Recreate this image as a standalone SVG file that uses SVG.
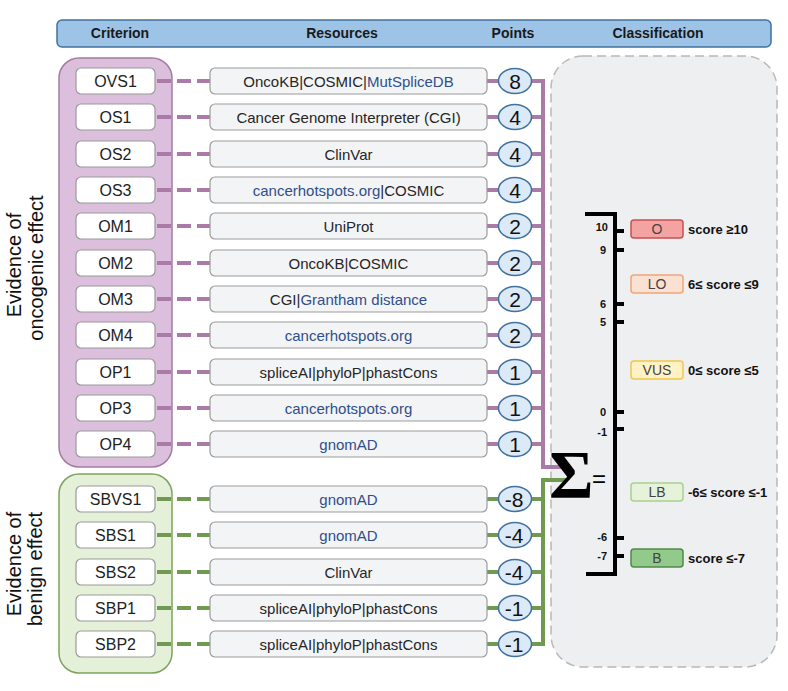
<svg xmlns="http://www.w3.org/2000/svg" width="788" height="691" viewBox="0 0 788 691">
<style>
.hdr{font-family:"Liberation Sans",Arial,sans-serif;font-weight:bold;font-size:14px;fill:#1a1a1a;text-anchor:middle}
.crit rect{fill:#fff;stroke:#9a9a9a;stroke-width:1.2}
.crit text{font-family:"Liberation Sans",Arial,sans-serif;font-size:16px;fill:#222;text-anchor:middle}
.res rect{fill:#f3f4f6;stroke:#9c9c9c;stroke-width:1.2}
.res text{font-family:"Liberation Sans",Arial,sans-serif;font-size:15px;fill:#262626;text-anchor:middle}
.res .bl{fill:#2f4f8c}
.pt ellipse{fill:#dce9f6;stroke:#41729f;stroke-width:1.5}
.pt text{font-family:"Liberation Sans",Arial,sans-serif;font-size:21px;fill:#111;text-anchor:middle}
.side{font-family:"Liberation Sans",Arial,sans-serif;font-size:20px;fill:#111;text-anchor:middle}
.tick{font-family:"Liberation Sans",Arial,sans-serif;font-weight:bold;font-size:11px;fill:#111;text-anchor:end}
.cls rect{stroke-width:1.5}
.cls .lb{font-family:"Liberation Sans",Arial,sans-serif;font-size:14px;fill:#444;text-anchor:middle}
.cls .sc{font-family:"Liberation Sans",Arial,sans-serif;font-weight:bold;font-size:13px;fill:#111;text-anchor:start}
.dp{stroke:#a97ba6;stroke-width:4;stroke-dasharray:14 6;fill:none}
.dg{stroke:#6f9a4f;stroke-width:4;stroke-dasharray:14 6;fill:none}
.sp{stroke:#a97ba6;stroke-width:4;fill:none}
.sg{stroke:#6f9a4f;stroke-width:4;fill:none}
.k{stroke:#000;stroke-width:4;fill:none}
</style>

<g id="header">
<rect x="57" y="20" width="714" height="27" rx="5" fill="#9dc3e6" stroke="#41719c" stroke-width="1.5"/>
<text class="hdr" x="120" y="38">Criterion</text>
<text class="hdr" x="342" y="38">Resources</text>
<text class="hdr" x="513" y="38">Points</text>
<text class="hdr" x="658" y="38">Classification</text>
</g>

<g id="panel-classification">
<rect x="551" y="56" width="226" height="611" rx="32" fill="#eeeff1" stroke="#b8b8b8" stroke-width="1.5" stroke-dasharray="9 5"/>
</g>

<g id="group-oncogenic">
<rect x="59" y="58" width="113" height="409" rx="20" fill="#dcbfdc" stroke="#a47ba2" stroke-width="1.5"/>
<text class="side" transform="translate(21,265) rotate(-90)">Evidence of</text>
<text class="side" transform="translate(43,268) rotate(-90)">oncogenic effect</text>
</g>
<g id="group-benign">
<rect x="59" y="474" width="113" height="199" rx="20" fill="#e4f0d7" stroke="#7ea35f" stroke-width="1.5"/>
<text class="side" transform="translate(21,564) rotate(-90)">Evidence of</text>
<text class="side" transform="translate(42,569) rotate(-90)">benign effect</text>
</g>

<g id="connectors">
<path class="dp" d="M157 81H210M157 117H210M157 154H210M157 190H210M157 226H210M157 263H210M157 299H210M157 335H210M157 372H210M157 408H210M157 444H210"/>
<path class="dg" d="M157 499H210M157 535H210M157 572H210M157 608H210M157 644H210"/>
<path class="sp" d="M487 81H499M487 117H499M487 154H499M487 190H499M487 226H499M487 263H499M487 299H499M487 335H499M487 372H499M487 408H499M487 444H499"/>
<path class="sp" d="M531 81H543M531 117H543M531 154H543M531 190H543M531 226H543M531 263H543M531 299H543M531 335H543M531 372H543M531 408H543M531 444H543"/>
<path class="sp" d="M543 79V467H563"/>
<path class="sg" d="M487 499H499M487 535H499M487 572H499M487 608H499M487 644H499"/>
<path class="sg" d="M531 499H543M531 535H543M531 572H543M531 608H543M531 644H543"/>
<path class="sg" d="M543 646V480H566"/>
</g>

<g id="crit-OVS1" class="crit"><rect x="76" y="68" width="79" height="26" rx="5"/><text x="115.5" y="87">OVS1</text></g>
<g id="crit-OS1" class="crit"><rect x="76" y="104" width="79" height="26" rx="5"/><text x="115.5" y="123">OS1</text></g>
<g id="crit-OS2" class="crit"><rect x="76" y="141" width="79" height="26" rx="5"/><text x="115.5" y="160">OS2</text></g>
<g id="crit-OS3" class="crit"><rect x="76" y="177" width="79" height="26" rx="5"/><text x="115.5" y="196">OS3</text></g>
<g id="crit-OM1" class="crit"><rect x="76" y="213" width="79" height="26" rx="5"/><text x="115.5" y="232">OM1</text></g>
<g id="crit-OM2" class="crit"><rect x="76" y="250" width="79" height="26" rx="5"/><text x="115.5" y="269">OM2</text></g>
<g id="crit-OM3" class="crit"><rect x="76" y="286" width="79" height="26" rx="5"/><text x="115.5" y="305">OM3</text></g>
<g id="crit-OM4" class="crit"><rect x="76" y="322" width="79" height="26" rx="5"/><text x="115.5" y="341">OM4</text></g>
<g id="crit-OP1" class="crit"><rect x="76" y="359" width="79" height="26" rx="5"/><text x="115.5" y="378">OP1</text></g>
<g id="crit-OP3" class="crit"><rect x="76" y="395" width="79" height="26" rx="5"/><text x="115.5" y="414">OP3</text></g>
<g id="crit-OP4" class="crit"><rect x="76" y="431" width="79" height="26" rx="5"/><text x="115.5" y="450">OP4</text></g>
<g id="crit-SBVS1" class="crit"><rect x="76" y="486" width="79" height="26" rx="5"/><text x="115.5" y="505">SBVS1</text></g>
<g id="crit-SBS1" class="crit"><rect x="76" y="522" width="79" height="26" rx="5"/><text x="115.5" y="541">SBS1</text></g>
<g id="crit-SBS2" class="crit"><rect x="76" y="559" width="79" height="26" rx="5"/><text x="115.5" y="578">SBS2</text></g>
<g id="crit-SBP1" class="crit"><rect x="76" y="595" width="79" height="26" rx="5"/><text x="115.5" y="614">SBP1</text></g>
<g id="crit-SBP2" class="crit"><rect x="76" y="631" width="79" height="26" rx="5"/><text x="115.5" y="650">SBP2</text></g>

<g id="res-OVS1" class="res"><rect x="210" y="68" width="277" height="26" rx="5"/><text x="348.5" y="86.5">OncoKB|COSMIC|<tspan class="bl">MutSpliceDB</tspan></text></g>
<g id="res-OS1" class="res"><rect x="210" y="104" width="277" height="26" rx="5"/><text x="348.5" y="122.5">Cancer Genome Interpreter (CGI)</text></g>
<g id="res-OS2" class="res"><rect x="210" y="141" width="277" height="26" rx="5"/><text x="348.5" y="159.5">ClinVar</text></g>
<g id="res-OS3" class="res"><rect x="210" y="177" width="277" height="26" rx="5"/><text x="348.5" y="195.5"><tspan class="bl">cancerhotspots.org</tspan>|COSMIC</text></g>
<g id="res-OM1" class="res"><rect x="210" y="213" width="277" height="26" rx="5"/><text x="348.5" y="231.5">UniProt</text></g>
<g id="res-OM2" class="res"><rect x="210" y="250" width="277" height="26" rx="5"/><text x="348.5" y="268.5">OncoKB|COSMIC</text></g>
<g id="res-OM3" class="res"><rect x="210" y="286" width="277" height="26" rx="5"/><text x="348.5" y="304.5">CGI|<tspan class="bl">Grantham distance</tspan></text></g>
<g id="res-OM4" class="res"><rect x="210" y="322" width="277" height="26" rx="5"/><text x="348.5" y="340.5" class="bl">cancerhotspots.org</text></g>
<g id="res-OP1" class="res"><rect x="210" y="359" width="277" height="26" rx="5"/><text x="348.5" y="377.5">spliceAI|phyloP|phastCons</text></g>
<g id="res-OP3" class="res"><rect x="210" y="395" width="277" height="26" rx="5"/><text x="348.5" y="413.5" class="bl">cancerhotspots.org</text></g>
<g id="res-OP4" class="res"><rect x="210" y="431" width="277" height="26" rx="5"/><text x="348.5" y="449.5" class="bl">gnomAD</text></g>
<g id="res-SBVS1" class="res"><rect x="210" y="486" width="277" height="26" rx="5"/><text x="348.5" y="504.5" class="bl">gnomAD</text></g>
<g id="res-SBS1" class="res"><rect x="210" y="522" width="277" height="26" rx="5"/><text x="348.5" y="540.5" class="bl">gnomAD</text></g>
<g id="res-SBS2" class="res"><rect x="210" y="559" width="277" height="26" rx="5"/><text x="348.5" y="577.5">ClinVar</text></g>
<g id="res-SBP1" class="res"><rect x="210" y="595" width="277" height="26" rx="5"/><text x="348.5" y="613.5">spliceAI|phyloP|phastCons</text></g>
<g id="res-SBP2" class="res"><rect x="210" y="631" width="277" height="26" rx="5"/><text x="348.5" y="649.5">spliceAI|phyloP|phastCons</text></g>

<g id="pt-OVS1" class="pt"><ellipse cx="515" cy="81" rx="16.5" ry="12.5"/><text x="515" y="88.5">8</text></g>
<g id="pt-OS1" class="pt"><ellipse cx="515" cy="117" rx="16.5" ry="12.5"/><text x="515" y="124.5">4</text></g>
<g id="pt-OS2" class="pt"><ellipse cx="515" cy="154" rx="16.5" ry="12.5"/><text x="515" y="161.5">4</text></g>
<g id="pt-OS3" class="pt"><ellipse cx="515" cy="190" rx="16.5" ry="12.5"/><text x="515" y="197.5">4</text></g>
<g id="pt-OM1" class="pt"><ellipse cx="515" cy="226" rx="16.5" ry="12.5"/><text x="515" y="233.5">2</text></g>
<g id="pt-OM2" class="pt"><ellipse cx="515" cy="263" rx="16.5" ry="12.5"/><text x="515" y="270.5">2</text></g>
<g id="pt-OM3" class="pt"><ellipse cx="515" cy="299" rx="16.5" ry="12.5"/><text x="515" y="306.5">2</text></g>
<g id="pt-OM4" class="pt"><ellipse cx="515" cy="335" rx="16.5" ry="12.5"/><text x="515" y="342.5">2</text></g>
<g id="pt-OP1" class="pt"><ellipse cx="515" cy="372" rx="16.5" ry="12.5"/><text x="515" y="379.5">1</text></g>
<g id="pt-OP3" class="pt"><ellipse cx="515" cy="408" rx="16.5" ry="12.5"/><text x="515" y="415.5">1</text></g>
<g id="pt-OP4" class="pt"><ellipse cx="515" cy="444" rx="16.5" ry="12.5"/><text x="515" y="451.5">1</text></g>
<g id="pt-SBVS1" class="pt"><ellipse cx="515" cy="499" rx="16.5" ry="12.5"/><text x="514" y="506.5">-8</text></g>
<g id="pt-SBS1" class="pt"><ellipse cx="515" cy="535" rx="16.5" ry="12.5"/><text x="514" y="542.5">-4</text></g>
<g id="pt-SBS2" class="pt"><ellipse cx="515" cy="572" rx="16.5" ry="12.5"/><text x="514" y="579.5">-4</text></g>
<g id="pt-SBP1" class="pt"><ellipse cx="515" cy="608" rx="16.5" ry="12.5"/><text x="514" y="615.5">-1</text></g>
<g id="pt-SBP2" class="pt"><ellipse cx="515" cy="644" rx="16.5" ry="12.5"/><text x="514" y="651.5">-1</text></g>

<g id="sum">
<text x="549" y="497" font-family="'Liberation Serif','Times New Roman',serif" font-size="68" font-weight="bold" fill="#000">Σ</text>
<text x="592" y="487" font-family="'Liberation Sans',Arial,sans-serif" font-size="24" fill="#000">=</text>
</g>

<g id="scale">
<path class="k" d="M585 214H615V574H586"/>
<path class="k" d="M615 231H624M615 250H624M615 304H624M615 322H624M615 412H624M615 429H624M615 538H624M615 556H624"/>
<text class="tick" x="608" y="231">10</text>
<text class="tick" x="606" y="254">9</text>
<text class="tick" x="606" y="308">6</text>
<text class="tick" x="606" y="326">5</text>
<text class="tick" x="606" y="416">0</text>
<text class="tick" x="607" y="436">-1</text>
<text class="tick" x="607" y="541">-6</text>
<text class="tick" x="607" y="560">-7</text>
</g>

<g id="cls-O" class="cls"><rect x="631" y="220" width="52" height="18" rx="3" fill="#f4a3a3" stroke="#c9504f"/><text class="lb" x="657" y="234">O</text><text class="sc" x="688" y="234">score ≥10</text></g>
<g id="cls-LO" class="cls"><rect x="631" y="275" width="52" height="18" rx="3" fill="#fbe1d2" stroke="#eea57a"/><text class="lb" x="657" y="289">LO</text><text class="sc" x="688" y="289">6≤ score ≤9</text></g>
<g id="cls-VUS" class="cls"><rect x="631" y="361" width="52" height="18" rx="3" fill="#fff2c5" stroke="#f2c64c"/><text class="lb" x="657" y="375">VUS</text><text class="sc" x="688" y="375">0≤ score ≤5</text></g>
<g id="cls-LB" class="cls"><rect x="631" y="483" width="52" height="18" rx="3" fill="#e6f2da" stroke="#a9d18e"/><text class="lb" x="657" y="497">LB</text><text class="sc" x="688" y="497">-6≤ score ≤-1</text></g>
<g id="cls-B" class="cls"><rect x="631" y="549" width="52" height="18" rx="3" fill="#92ca8b" stroke="#4f8a47"/><text class="lb" x="657" y="563">B</text><text class="sc" x="688" y="563">score ≤-7</text></g>
</svg>
